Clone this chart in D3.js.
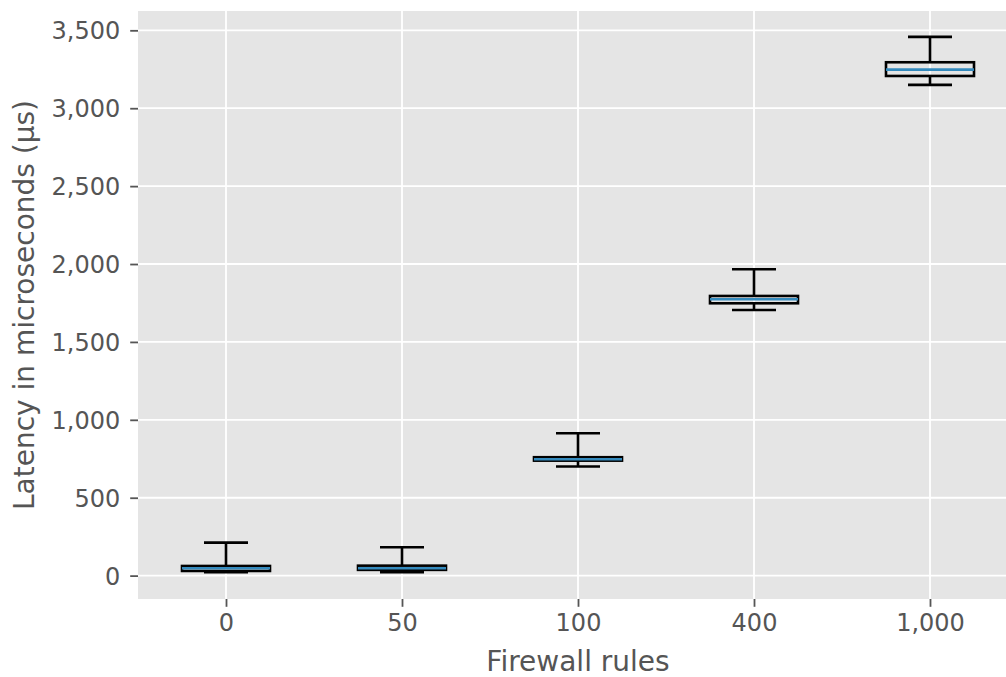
<!DOCTYPE html>
<html>
<head>
<meta charset="utf-8">
<script src="https://cdn.jsdelivr.net/npm/d3@7"></script>
<style>
  body { margin: 0; background: #fff; }
  text { font-family: "DejaVu Sans", sans-serif; fill: #555555; }
</style>
</head>
<body>
<svg id="chart" width="1006" height="677"></svg>
<script>
// Box plot stats per firewall rule count
var categories = ['0', '50', '100', '400', '1,000'];
var whiskerLow = [22, 22, 700, 1705, 3150];
var q1 = [30, 37, 738, 1748, 3207];
var median = [47, 47, 747, 1774, 3248];
var q3 = [62, 64, 760, 1795, 3295];
var whiskerHigh = [212, 182, 914, 1966, 3458];
var yTicks = [0, 500, 1000, 1500, 2000, 2500, 3000, 3500];

var svg = d3.select('#chart');

// plot area (right edge runs past the window like the original crop)
var plot = {l: 138, t: 11, r: 1018, b: 599};

var xScale = d3.scaleLinear()
    .domain([0.5, categories.length + 0.5])
    .range([plot.l, plot.r]);

var yScale = d3.scaleLinear()
    .domain([-150, 3624])
    .range([plot.b, plot.t]);

var fmt = d3.format(',');

svg.append('rect')
    .attr('x', plot.l)
    .attr('y', plot.t)
    .attr('width', plot.r - plot.l)
    .attr('height', plot.b - plot.t)
    .attr('fill', '#E5E5E5');

// grid lines
var grid = svg.append('g');
grid.selectAll('.hgrid')
    .data(yTicks)
    .enter().append('line')
    .attr('x1', plot.l).attr('x2', plot.r)
    .attr('y1', function(d) { return yScale(d); })
    .attr('y2', function(d) { return yScale(d); })
    .attr('stroke', '#fff').attr('stroke-width', 1.8);

grid.selectAll('.vgrid')
    .data(categories)
    .enter().append('line')
    .attr('x1', function(d, i) { return xScale(i + 1); })
    .attr('x2', function(d, i) { return xScale(i + 1); })
    .attr('y1', plot.t).attr('y2', plot.b)
    .attr('stroke', '#fff').attr('stroke-width', 1.8);

// axes
var yAxis = d3.axisLeft(yScale)
    .tickValues(yTicks)
    .tickFormat(fmt)
    .tickSize(7.8)
    .tickPadding(10);

svg.append('g')
    .attr('transform', 'translate(' + [plot.l, 0] + ')')
    .call(yAxis)
    .call(function(g) {
        g.select('.domain').remove();
        g.selectAll('line').attr('stroke', '#555555').attr('stroke-width', 1.8);
        g.selectAll('text').attr('fill', '#555555')
            .style('font-size', '24px').attr('dy', '0.36em');
    });

var xAxis = d3.axisBottom(xScale)
    .tickValues(d3.range(1, categories.length + 1))
    .tickFormat(function(d) { return categories[d - 1]; })
    .tickSize(7.8)
    .tickPadding(7);

svg.append('g')
    .attr('transform', 'translate(' + [0, plot.b] + ')')
    .call(xAxis)
    .call(function(g) {
        g.select('.domain').remove();
        g.selectAll('line').attr('stroke', '#555555').attr('stroke-width', 1.8);
        g.selectAll('text').attr('fill', '#555555')
            .style('font-size', '24px').attr('dy', '0.71em');
    });

// boxes
var boxW = 0.25;
var capW = 0.125;
var stroke = 2.6;

var boxes = svg.append('g').selectAll('.box')
    .data(categories)
    .enter().append('g')
    .attr('class', 'box');

// whiskers
boxes.append('line')
    .attr('x1', function(d, i) { return xScale(i + 1); })
    .attr('x2', function(d, i) { return xScale(i + 1); })
    .attr('y1', function(d, i) { return yScale(q1[i]); })
    .attr('y2', function(d, i) { return yScale(whiskerLow[i]); })
    .attr('stroke', '#000').attr('stroke-width', stroke);
boxes.append('line')
    .attr('x1', function(d, i) { return xScale(i + 1); })
    .attr('x2', function(d, i) { return xScale(i + 1); })
    .attr('y1', function(d, i) { return yScale(q3[i]); })
    .attr('y2', function(d, i) { return yScale(whiskerHigh[i]); })
    .attr('stroke', '#000').attr('stroke-width', stroke);

// caps
[whiskerLow, whiskerHigh].forEach(function(arr) {
    boxes.append('line')
        .attr('x1', function(d, i) { return xScale(i + 1 - capW); })
        .attr('x2', function(d, i) { return xScale(i + 1 + capW); })
        .attr('y1', function(d, i) { return yScale(arr[i]); })
        .attr('y2', function(d, i) { return yScale(arr[i]); })
        .attr('stroke', '#000').attr('stroke-width', stroke);
});

boxes.append('rect')
    .attr('x', function(d, i) { return xScale(i + 1 - boxW); })
    .attr('width', function(d, i) { return xScale(i + 1 + boxW) - xScale(i + 1 - boxW); })
    .attr('y', function(d, i) { return yScale(q3[i]); })
    .attr('height', function(d, i) { return yScale(q1[i]) - yScale(q3[i]); })
    .attr('fill', 'none')
    .attr('stroke', '#000').attr('stroke-width', stroke);

boxes.append('line')
    .attr('x1', function(d, i) { return xScale(i + 1 - boxW); })
    .attr('x2', function(d, i) { return xScale(i + 1 + boxW); })
    .attr('y1', function(d, i) { return yScale(median[i]); })
    .attr('y2', function(d, i) { return yScale(median[i]); })
    .attr('stroke', '#348ABD').attr('stroke-width', stroke);

// axis labels
svg.append('text')
    .attr('x', (plot.l + plot.r) / 2)
    .attr('y', 671)
    .attr('text-anchor', 'middle')
    .style('font-size', '28px')
    .text('Firewall rules');

svg.append('text')
    .attr('transform', 'translate(' + [34, (plot.t + plot.b) / 2] + ') rotate(-90)')
    .attr('text-anchor', 'middle')
    .style('font-size', '28px')
    .text('Latency in microseconds (µs)');
</script>
</body>
</html>
